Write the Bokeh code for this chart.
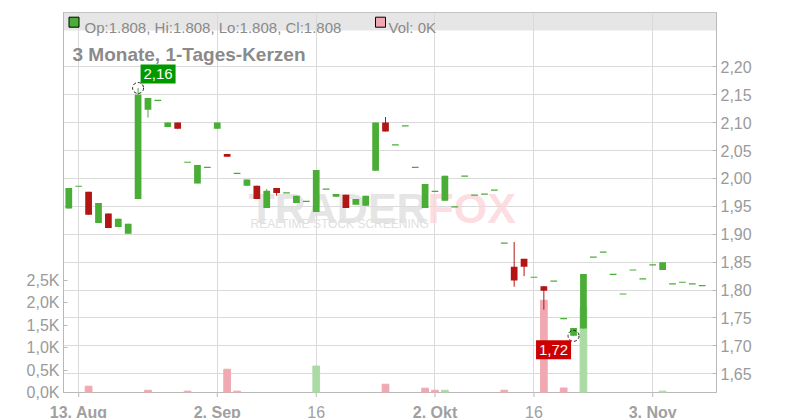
import numpy as np
import pandas as pd
from bokeh.plotting import figure
from bokeh.layouts import column
from bokeh.models import Range1d, LinearAxis, FixedTicker, ColumnDataSource, Grid
from bokeh.core.properties import value
from bokeh.embed import file_html
from bokeh.resources import INLINE

# ---------------- data ----------------
dates = [d.strftime("%Y-%m-%d") for d in pd.bdate_range("2025-08-12", "2025-11-10")]

opens = [1.946, 1.986, 1.976, 1.920, 1.937, 1.913, 1.901, 1.963, 2.123, 2.140,
         2.092, 2.100, 2.029, 1.991, 2.020, 2.089, 2.044, 2.009, 1.987, 1.987,
         1.947, 1.983, 1.974, 1.956, 1.959, 1.940, 1.981, 1.967, 1.971, 1.953,
         1.951, 2.014, 2.100, 2.060, 2.094, 2.020, 1.947, 1.977, 1.960, 1.949,
         2.004, 1.970, 1.972, 1.979, 1.884, 1.842, 1.856, 1.823, 1.807, 1.816,
         1.749, 1.718, 1.731, 1.859, 1.868, 1.828, 1.793, 1.836, 1.820, 1.845,
         1.836, 1.811, 1.814, 1.811, 1.808]
highs = [1.983, 1.986, 1.976, 1.956, 1.937, 1.928, 1.919, 2.162, 2.144, 2.140,
         2.100, 2.100, 2.029, 2.024, 2.020, 2.100, 2.044, 2.009, 1.998, 1.987,
         1.981, 1.983, 1.974, 1.969, 1.959, 2.015, 1.981, 1.972, 1.971, 1.963,
         1.969, 2.100, 2.110, 2.060, 2.094, 2.020, 1.990, 1.977, 2.005, 1.949,
         2.004, 1.970, 1.972, 1.979, 1.884, 1.886, 1.856, 1.823, 1.807, 1.816,
         1.749, 1.732, 1.829, 1.859, 1.868, 1.828, 1.793, 1.836, 1.820, 1.845,
         1.850, 1.811, 1.814, 1.811, 1.808]
lows = [1.946, 1.986, 1.935, 1.920, 1.911, 1.913, 1.901, 1.963, 2.109, 2.140,
        2.092, 2.089, 2.029, 1.991, 2.020, 2.089, 2.039, 2.009, 1.987, 1.963,
        1.947, 1.969, 1.974, 1.956, 1.959, 1.940, 1.981, 1.967, 1.947, 1.953,
        1.951, 2.014, 2.084, 2.060, 2.094, 2.020, 1.947, 1.977, 1.960, 1.949,
        2.004, 1.970, 1.972, 1.979, 1.884, 1.806, 1.825, 1.823, 1.765, 1.816,
        1.749, 1.718, 1.731, 1.859, 1.868, 1.828, 1.793, 1.836, 1.820, 1.845,
        1.836, 1.811, 1.814, 1.811, 1.808]
closes = [1.983, 1.986, 1.935, 1.956, 1.911, 1.928, 1.919, 2.150, 2.144, 2.140,
          2.100, 2.089, 2.029, 2.024, 2.020, 2.100, 2.039, 2.009, 1.998, 1.963,
          1.978, 1.974, 1.974, 1.969, 1.959, 2.015, 1.981, 1.972, 1.947, 1.963,
          1.969, 2.100, 2.084, 2.060, 2.094, 2.020, 1.990, 1.977, 2.005, 1.949,
          2.004, 1.970, 1.972, 1.979, 1.884, 1.817, 1.842, 1.823, 1.799, 1.816,
          1.749, 1.732, 1.829, 1.859, 1.868, 1.828, 1.793, 1.836, 1.820, 1.845,
          1.850, 1.811, 1.814, 1.811, 1.808]
volumes = [0, 0, 140, 0, 0, 0, 0, 0, 50, 0,
           0, 0, 30, 0, 0, 0, 520, 30, 0, 0,
           0, 0, 0, 0, 0, 590, 0, 0, 0, 0,
           0, 0, 185, 0, 0, 0, 96, 50, 50, 0,
           0, 0, 0, 0, 50, 0, 0, 0, 2060, 0,
           100, 0, 1900, 0, 0, 0, 0, 0, 0, 0,
           30, 0, 0, 0, 0]

tick_dates = ["2025-08-13", "2025-09-02", "2025-09-16", "2025-10-02", "2025-10-16", "2025-11-03"]
tick_labels = ["13. Aug", "2. Sep", "16", "2. Okt", "16", "3. Nov"]
tick_bold = [True, True, False, True, False, True]

price_ticks = [1.65, 1.70, 1.75, 1.80, 1.85, 1.90, 1.95, 2.00, 2.05, 2.10, 2.15, 2.20]
vol_ticks = [0, 500, 1000, 1500, 2000, 2500]

title_text = "3 Monate, 1-Tages-Kerzen"

# ---------------- styles ----------------
FONT = "Liberation Sans"
GREEN = "#4aad36"
RED = "#b31515"
VOL_DOWN = "#f0a9b2"
VOL_UP = "#abdba5"
GRID = "#dadada"
AXIS = "#b8b8b8"
LABEL = "#9a9a9a"
HEAD = "#8a8a8a"

ML, MR, MT, MB = 63, 76, 12, 14
FW, FH = 653, 380
W = ML + FW + MR
H = MT + FH + MB
FRAME_BOTTOM = MT + FH
STRIP_H = 26
X0, X1 = -0.5355, 65.444
P1 = 2.29728
P0 = P1 - FH / 558.2
V1 = FH / 44.8 * 1000

PAGE_L, PAGE_T = ML, MT


def px(page_x):
    return X0 + (page_x - PAGE_L) / FW * (X1 - X0)


def py(page_y):
    return P1 - (page_y - PAGE_T) / FH * (P1 - P0)


DX = (X1 - X0) / FW   # data per px
DY = (P1 - P0) / FH

x = np.arange(len(dates))
o = np.array(opens); h = np.array(highs); l = np.array(lows); c = np.array(closes)
v = np.array(volumes)

p = figure(width=W, height=H, x_range=Range1d(X0, X1), y_range=Range1d(P0, P1),
           x_axis_location=None, y_axis_location="right", output_backend="svg",
           toolbar_location=None, min_border_left=ML, min_border_right=MR,
           min_border_top=MT, min_border_bottom=MB, frame_align=False)
p.outline_line_color = AXIS
p.background_fill_color = "white"
p.border_fill_color = "white"

# price axis (right)
pax = p.yaxis[0]
pt = FixedTicker(ticks=price_ticks)
pax.ticker = pt
pax.major_label_overrides = {t: f"{t:.2f}".replace(".", ",") for t in price_ticks}
pax.major_tick_in = 4
pax.major_tick_out = 0
pax.minor_tick_in = 0
pax.minor_tick_out = 0
pax.major_label_standoff = 4
pax.axis_line_color = AXIS
pax.major_tick_line_color = AXIS
pax.major_label_text_color = LABEL
pax.major_label_text_font = FONT
pax.major_label_text_font_size = "16px"
p.ygrid.ticker = pt
p.ygrid.grid_line_color = GRID

# vertical grid at the date ticks
tick_idx = [dates.index(d) for d in tick_dates]
xt = FixedTicker(ticks=tick_idx)
if len(p.xgrid) > 0:
    p.xgrid.ticker = xt
    p.xgrid.grid_line_color = GRID
else:
    p.add_layout(Grid(dimension=0, ticker=xt, grid_line_color=GRID))

# volume axis (left)
p.extra_y_ranges = {"vol": Range1d(0, V1)}
vax = LinearAxis(y_range_name="vol", ticker=FixedTicker(ticks=vol_ticks),
                 major_label_overrides={t: f"{t/1000:.1f}K".replace(".", ",") for t in vol_ticks})
vax.major_tick_in = 4
vax.major_tick_out = 0
vax.minor_tick_in = 0
vax.minor_tick_out = 0
vax.major_label_standoff = 4
vax.axis_line_color = AXIS
vax.major_tick_line_color = AXIS
vax.major_label_text_color = LABEL
vax.major_label_text_font = FONT
vax.major_label_text_font_size = "16px"
p.add_layout(vax, "left")

# header band
p.quad(left=[X0], right=[X1], bottom=[py(30)], top=[P1], fill_color="#e6e6e6",
       line_color=None, level="image")

# watermark
p.text(x=[px(248)], y=[py(207)], text=["TRADER"], text_font=value(FONT), text_font_size="43px",
       text_font_style="bold", text_color="#dedede", text_alpha=0.8, text_baseline="alphabetic")
p.text(x=[px(427)], y=[py(207)], text=["FOX"], text_font=value(FONT), text_font_size="43px",
       text_font_style="bold", text_color="#fcd6db", text_alpha=0.8, text_baseline="alphabetic")
p.text(x=[px(250)], y=[py(223)], text=["REALTIME STOCK SCREENING"], text_font=value(FONT),
       text_font_size="12px", text_color="#e0e0e0", text_baseline="alphabetic")

# volume bars
prev_c = np.concatenate([[c[0]], c[:-1]])
vol_col = [VOL_UP if cc >= pc else VOL_DOWN for cc, pc in zip(c, prev_c)]
vsrc = ColumnDataSource(dict(x=x[v > 0], top=v[v > 0], color=[vc for vc, vv in zip(vol_col, v) if vv > 0]))
p.vbar(x="x", top="top", bottom=0, width=0.68, color="color", y_range_name="vol", source=vsrc)

# candles
up = c >= o
ccol = np.where(up, GREEN, RED)
doji = np.abs(c - o) < 1e-9
wick = ~doji
wsrc = ColumnDataSource(dict(x=x[wick], hi=h[wick], lo=l[wick], color=ccol[wick]))
p.segment(x0="x", y0="lo", x1="x", y1="hi", line_color="color", line_width=1, source=wsrc)
bsrc = ColumnDataSource(dict(x=x[~doji], top=np.maximum(o, c)[~doji], bottom=np.minimum(o, c)[~doji],
                             color=ccol[~doji]))
p.vbar(x="x", top="top", bottom="bottom", width=0.68, fill_color="color", line_color=None, source=bsrc)
dsrc = ColumnDataSource(dict(x0=x[doji] - 0.34, x1=x[doji] + 0.34, y=c[doji], color=ccol[doji]))
p.segment(x0="x0", y0="y", x1="x1", y1="y", line_color="color", line_width=1.2, source=dsrc)

# extreme markers
imax = int(np.argmax(h)); imin = int(np.argmin(l))
p.scatter(x=[imax, imin], y=[h[imax], l[imin]], marker="circle", size=11, fill_color=None,
          line_color="#222222", line_width=1, line_dash="3 2")
bx = [imax + 20 * DX, imin - 20 * DX]
by = [h[imax] + 14 * DY, l[imin] - 14 * DY]
p.rect(x=bx, y=by, width=35, height=19, width_units="screen", height_units="screen",
       fill_color=["#009a00", "#cc0000"], line_color=None)
p.text(x=bx, y=by, text=[f"{h[imax]:.2f}".replace(".", ","), f"{l[imin]:.2f}".replace(".", ",")],
       text_font=value(FONT), text_font_size="15px", text_color="white",
       text_align="center", text_baseline="middle")

# header info
p.rect(x=[px(73.5), px(380)], y=[py(21.7), py(21.7)], width=10, height=10,
       width_units="screen", height_units="screen", fill_color=[GREEN, VOL_DOWN],
       line_color="black", line_width=1)
ohlc_text = (f"Op:{opens[-1]:.3f}, Hi:{highs[-1]:.3f}, Lo:{lows[-1]:.3f}, Cl:{closes[-1]:.3f}")
vol_text = f"Vol: {volumes[-1]/1000:.0f}K"
p.text(x=[px(84), px(388)], y=[py(27.3), py(27.3)], text=[ohlc_text, vol_text],
       text_font=value(FONT), text_font_size="15px", text_color=HEAD, text_baseline="alphabetic")
p.text(x=[px(72)], y=[py(54.3)], text=[title_text], text_font=value(FONT), text_font_size="19px",
       text_font_style="bold", text_color=HEAD, text_baseline="alphabetic")

# date axis strip (transparent, overlapping the chart's bottom border):
# tick marks + labels, full-width frame, same x mapping as the main chart
OVERLAP = H - FRAME_BOTTOM
s = figure(width=W, height=STRIP_H, x_range=Range1d(px(0), px(W)), y_range=Range1d(0, STRIP_H),
           x_axis_type=None, y_axis_type=None, output_backend="svg", toolbar_location=None,
           min_border_left=0, min_border_right=0, min_border_top=0, min_border_bottom=0,
           frame_align=False)
s.margin = (-OVERLAP, 0, 0, 0)
s.outline_line_color = None
s.background_fill_color = None
s.border_fill_color = None
s.grid.visible = False
s.segment(x0=tick_idx, y0=[STRIP_H] * len(tick_idx), x1=tick_idx, y1=[STRIP_H - 4.5] * len(tick_idx),
          line_color=AXIS, line_width=1)
base_y = STRIP_H - (411.5 - FRAME_BOTTOM)
for bold in (True, False):
    sel = [k for k, b in enumerate(tick_bold) if b == bold]
    s.text(x=[tick_idx[k] for k in sel], y=[base_y] * len(sel), text=[tick_labels[k] for k in sel],
           text_font=value(FONT), text_font_size="16px",
           text_font_style="bold" if bold else "normal", text_color="#a0a0a0",
           text_align="center", text_baseline="alphabetic")

layout = column(p, s, spacing=0)
open("out.html", "w").write(file_html(layout, INLINE))
